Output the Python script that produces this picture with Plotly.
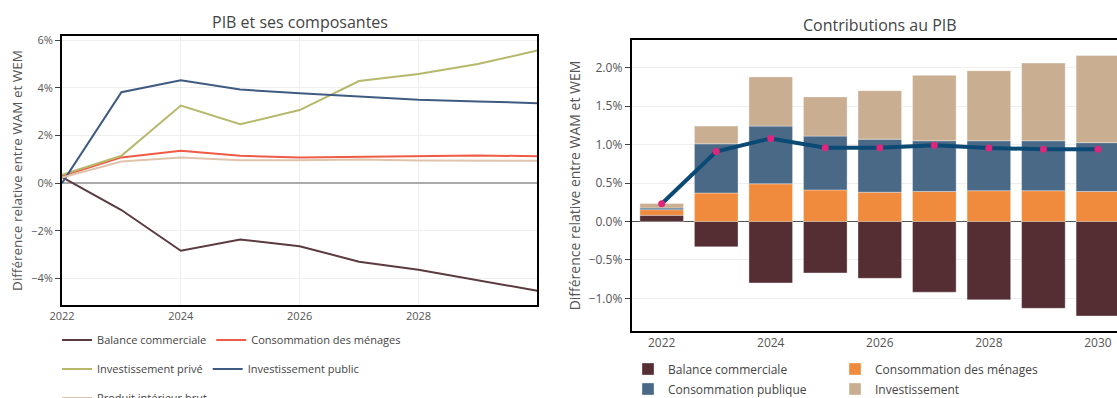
import plotly.graph_objects as go

# ---------------- data ----------------
years = [2022, 2023, 2024, 2025, 2026, 2027, 2028, 2029, 2030]

# Left chart: relative difference of GDP components (%)
balance_rel = [0.25, -1.13, -2.84, -2.37, -2.65, -3.30, -3.64, -4.08, -4.52]
menages_rel = [0.30, 1.08, 1.36, 1.15, 1.08, 1.10, 1.13, 1.16, 1.13]
prive_rel = [0.35, 1.15, 3.26, 2.47, 3.07, 4.29, 4.58, 5.00, 5.57]
public_rel = [0.00, 3.82, 4.32, 3.93, 3.77, 3.63, 3.50, 3.43, 3.36]
pib_rel = [0.23, 0.91, 1.08, 0.96, 0.96, 0.99, 0.955, 0.94, 0.94]

# Right chart: contributions to GDP (%)
c_balance = [0.08, -0.33, -0.80, -0.67, -0.74, -0.92, -1.02, -1.13, -1.23]
c_menages = [0.073, 0.37, 0.49, 0.41, 0.38, 0.39, 0.40, 0.40, 0.39]
c_publique = [0.022, 0.64, 0.75, 0.70, 0.69, 0.66, 0.65, 0.65, 0.635]
c_invest = [0.057, 0.23, 0.64, 0.51, 0.63, 0.85, 0.91, 1.01, 1.135]

left_names = ["Balance commerciale", "Consommation des ménages",
              "Investissement privé", "Investissement public",
              "Produit intérieur brut"]
right_names = ["Balance commerciale", "Consommation des ménages",
               "Consommation publique", "Investissement"]

left_xticks = [2022, 2024, 2026, 2028]

# ---------------- styles ----------------
FONT = "Open Sans"
line_colors = ["#5b3a40", "#ef5b45", "#b7b86c", "#3f5b82", "#e0c3ab"]
bar_colors = ["#552e34", "#f08a3c", "#4a6987", "#c9ae91"]
left_legends = ["legend", "legend", "legend3", "legend3", "legend4"]
right_legends = ["legend2", "legend2", "legend5", "legend5"]

fig = go.Figure()

left_series = [balance_rel, menages_rel, prive_rel, public_rel, pib_rel]
for name, vals, col, lg in zip(left_names, left_series, line_colors, left_legends):
    fig.add_trace(go.Scatter(
        x=years, y=vals, name=name, mode="lines",
        line=dict(color=col, width=2),
        xaxis="x", yaxis="y", legend=lg,
    ))

right_series = [c_balance, c_menages, c_publique, c_invest]
for name, vals, col, lg in zip(right_names, right_series, bar_colors, right_legends):
    fig.add_trace(go.Bar(
        x=years, y=vals, name=name,
        marker=dict(color=col, line=dict(color="rgba(255,255,255,0.35)", width=1)),
        xaxis="x2", yaxis="y2", legend=lg,
    ))

fig.add_trace(go.Scatter(
    x=years, y=pib_rel, name="Produit intérieur brut", mode="lines+markers",
    line=dict(color="#0b4a74", width=4),
    marker=dict(color="#e0267a", size=7),
    xaxis="x2", yaxis="y2", showlegend=False,
))

left_tickfont = dict(family=FONT, size=11, color="#555")
right_tickfont = dict(family=FONT, size=12, color="#555")
frame = dict(showline=True, linecolor="black", linewidth=2)

left_leg_font = dict(family=FONT, size=11, color="#444")
right_leg_font = dict(family=FONT, size=12, color="#444")

fig.update_layout(
    width=1117, height=398,
    margin=dict(l=62, r=0, t=36, b=67, autoexpand=False),
    paper_bgcolor="white", plot_bgcolor="white",
    font=dict(family=FONT, color="#444"),
    barmode="relative", bargap=0.2,
    xaxis=dict(domain=[0, 0.4505], range=[2022, 2030], tickvals=left_xticks,
               mirror=True, showgrid=True, gridcolor="#eeeeee", zeroline=False,
               ticks="", anchor="y", tickfont=left_tickfont, **frame),
    yaxis=dict(domain=[0.0881, 1], range=[-5.12, 6.18], dtick=2, ticksuffix="%",
               mirror=True, showgrid=True, gridcolor="#eeeeee",
               zeroline=True, zerolinecolor="#aaaaaa", zerolinewidth=1.5,
               ticks="outside", ticklen=5, tickcolor="#444", anchor="x",
               tickfont=left_tickfont,
               title=dict(text="Différence relative entre WAM et WEM",
                          font=dict(family=FONT, size=13.5, color="#555"),
                          standoff=5),
               **frame),
    xaxis2=dict(domain=[0.54, 1], range=[2021.45, 2030.35], dtick=2, tick0=2022,
                mirror=True, showgrid=False, zeroline=False, ticks="",
                anchor="y2", tickfont=right_tickfont, **frame),
    yaxis2=dict(domain=[0, 0.9864], range=[-1.425, 2.36], dtick=0.5,
                tickformat=".1f", ticksuffix="%",
                showgrid=True, gridcolor="#eeeeee",
                zeroline=True, zerolinecolor="#555555", zerolinewidth=1,
                ticks="outside", ticklen=5, tickcolor="#444", anchor="x2",
                tickfont=right_tickfont,
                title=dict(text="Différence relative entre WAM et WEM",
                           font=dict(family=FONT, size=14, color="#555"),
                           standoff=5),
                **frame),
    legend=dict(orientation="h", x=-0.0047, xanchor="left", y=-0.0305, yanchor="middle",
                font=left_leg_font, bgcolor="rgba(0,0,0,0)"),
    legend3=dict(orientation="h", x=-0.0047, xanchor="left", y=-0.1288, yanchor="middle",
                 font=left_leg_font, bgcolor="rgba(0,0,0,0)"),
    legend4=dict(orientation="h", x=-0.0047, xanchor="left", y=-0.227, yanchor="middle",
                 font=left_leg_font, bgcolor="rgba(0,0,0,0)"),
    legend2=dict(orientation="h", x=0.5365, xanchor="left", y=-0.1288, yanchor="middle",
                 entrywidth=162, entrywidthmode="pixels",
                 font=right_leg_font, bgcolor="rgba(0,0,0,0)"),
    legend5=dict(orientation="h", x=0.5365, xanchor="left", y=-0.1966, yanchor="middle",
                 entrywidth=162, entrywidthmode="pixels",
                 font=right_leg_font, bgcolor="rgba(0,0,0,0)"),
    annotations=[
        dict(text="PIB et ses composantes", xref="paper", yref="paper",
             x=0.2252, y=1.047, xanchor="center", yanchor="middle", showarrow=False,
             font=dict(family=FONT, size=16, color="#444")),
        dict(text="Contributions au PIB", xref="paper", yref="paper",
             x=0.7754, y=1.037, xanchor="center", yanchor="middle", showarrow=False,
             font=dict(family=FONT, size=16, color="#444")),
    ],
)

fig.write_html(
    "out.html",
    config={"displayModeBar": False},
    post_script="document.body.style.margin='0';document.body.style.overflow='hidden';",
)
